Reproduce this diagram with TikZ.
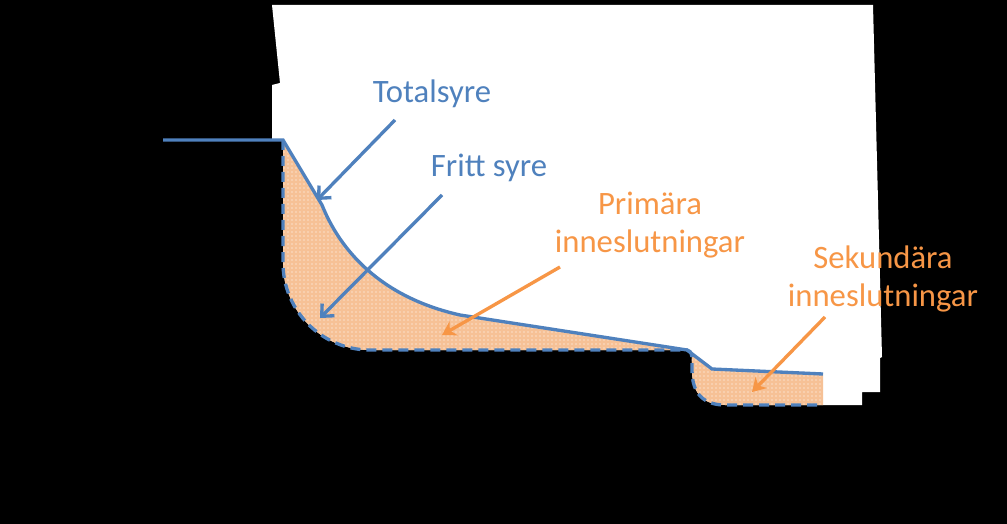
\documentclass[tikz,border=0pt]{standalone}
\usepackage{fontspec}
\setmainfont{Carlito}
\usetikzlibrary{arrows.meta,patterns}
\definecolor{syreblue}{HTML}{4F81BD}
\definecolor{inkorange}{HTML}{F79646}
\definecolor{inkfill}{HTML}{F6C196}

\begin{document}
\begin{tikzpicture}[x=0.75pt,y=-0.75pt,
  curve/.style={syreblue, line width=2.5pt},
  blue label/.style={syreblue, font=\fontsize{24.5}{28.5}\selectfont},
  orange label/.style={inkorange, font=\fontsize{24.5}{28.5}\selectfont, align=center},
  blue arrow/.style={syreblue, line width=2.5pt, -{Straight Barb[length=7pt,width=13pt]}},
  orange arrow/.style={inkorange, line width=2.5pt, -{Stealth[length=10pt,width=12pt]}},
  inclusion/.style={fill=inkfill, postaction={pattern=dots, pattern color=white}}]
\useasboundingbox (0,0) rectangle (1007,524);
\fill[black] (0,0) rectangle (1007,524);
% sheet
\fill[white] (272,5) -- (873,5) -- (882,357) -- (880,358) -- (880,392) -- (862,392) -- (862,405) -- (823,405) -- (725,405) .. controls (705,405) and (692,395) .. (692,370) .. controls (692,352) .. (687,350) -- (370,350) .. controls (322,350) and (283,311) .. (283,263) -- (283,140) -- (272,140) -- (272,85) -- (280,83) -- cycle;
% inclusions
\path[inclusion] (283,140) -- (322,205) .. controls (340,250) and (380,297) .. (460,315) -- (687,350) -- (370,350) .. controls (322,350) and (283,311) .. (283,263) -- cycle;
\path[inclusion] (687,350) -- (712,369) -- (823,374) -- (823,405) -- (725,405) .. controls (705,405) and (692,395) .. (692,370) .. controls (692,352) .. (687,350) -- cycle;
% oxygen curves
\draw[curve, dash pattern=on 7.5pt off 4.5pt] (283,140) -- (283,263) .. controls (283,311) and (322,350) .. (370,350) -- (687,350) .. controls (692,352) .. (692,370) .. controls (692,395) and (705,405) .. (725,405) -- (823,405);
\draw[curve] (163,140) -- (283,140) -- (322,205) .. controls (340,250) and (380,297) .. (460,315) -- (687,350) -- (712,369) -- (823,374);
% labels
\node[blue label, anchor=base] (total) at (432,103) {Totalsyre};
\node[blue label, anchor=base] (fritt) at (489,177) {Fritt syre};
\node[orange label] (prim) at (650,225) {Primära\\inneslutningar};
\node[orange label] (sek) at (883,279) {Sekundära\\inneslutningar};
\coordinate (total tail) at (395,120);
\coordinate (total tip) at (317,200);
\coordinate (fritt tail) at (442,195);
\coordinate (fritt tip) at (320,318);
\coordinate (prim tail) at (560,267);
\coordinate (prim tip) at (442,335);
\coordinate (sek tail) at (825,317);
\coordinate (sek tip) at (752,392);
\draw[blue arrow] (total tail) -- (total tip);
\draw[blue arrow] (fritt tail) -- (fritt tip);
\draw[orange arrow] (prim tail) -- (prim tip);
\draw[orange arrow] (sek tail) -- (sek tip);
\end{tikzpicture}
\end{document}
